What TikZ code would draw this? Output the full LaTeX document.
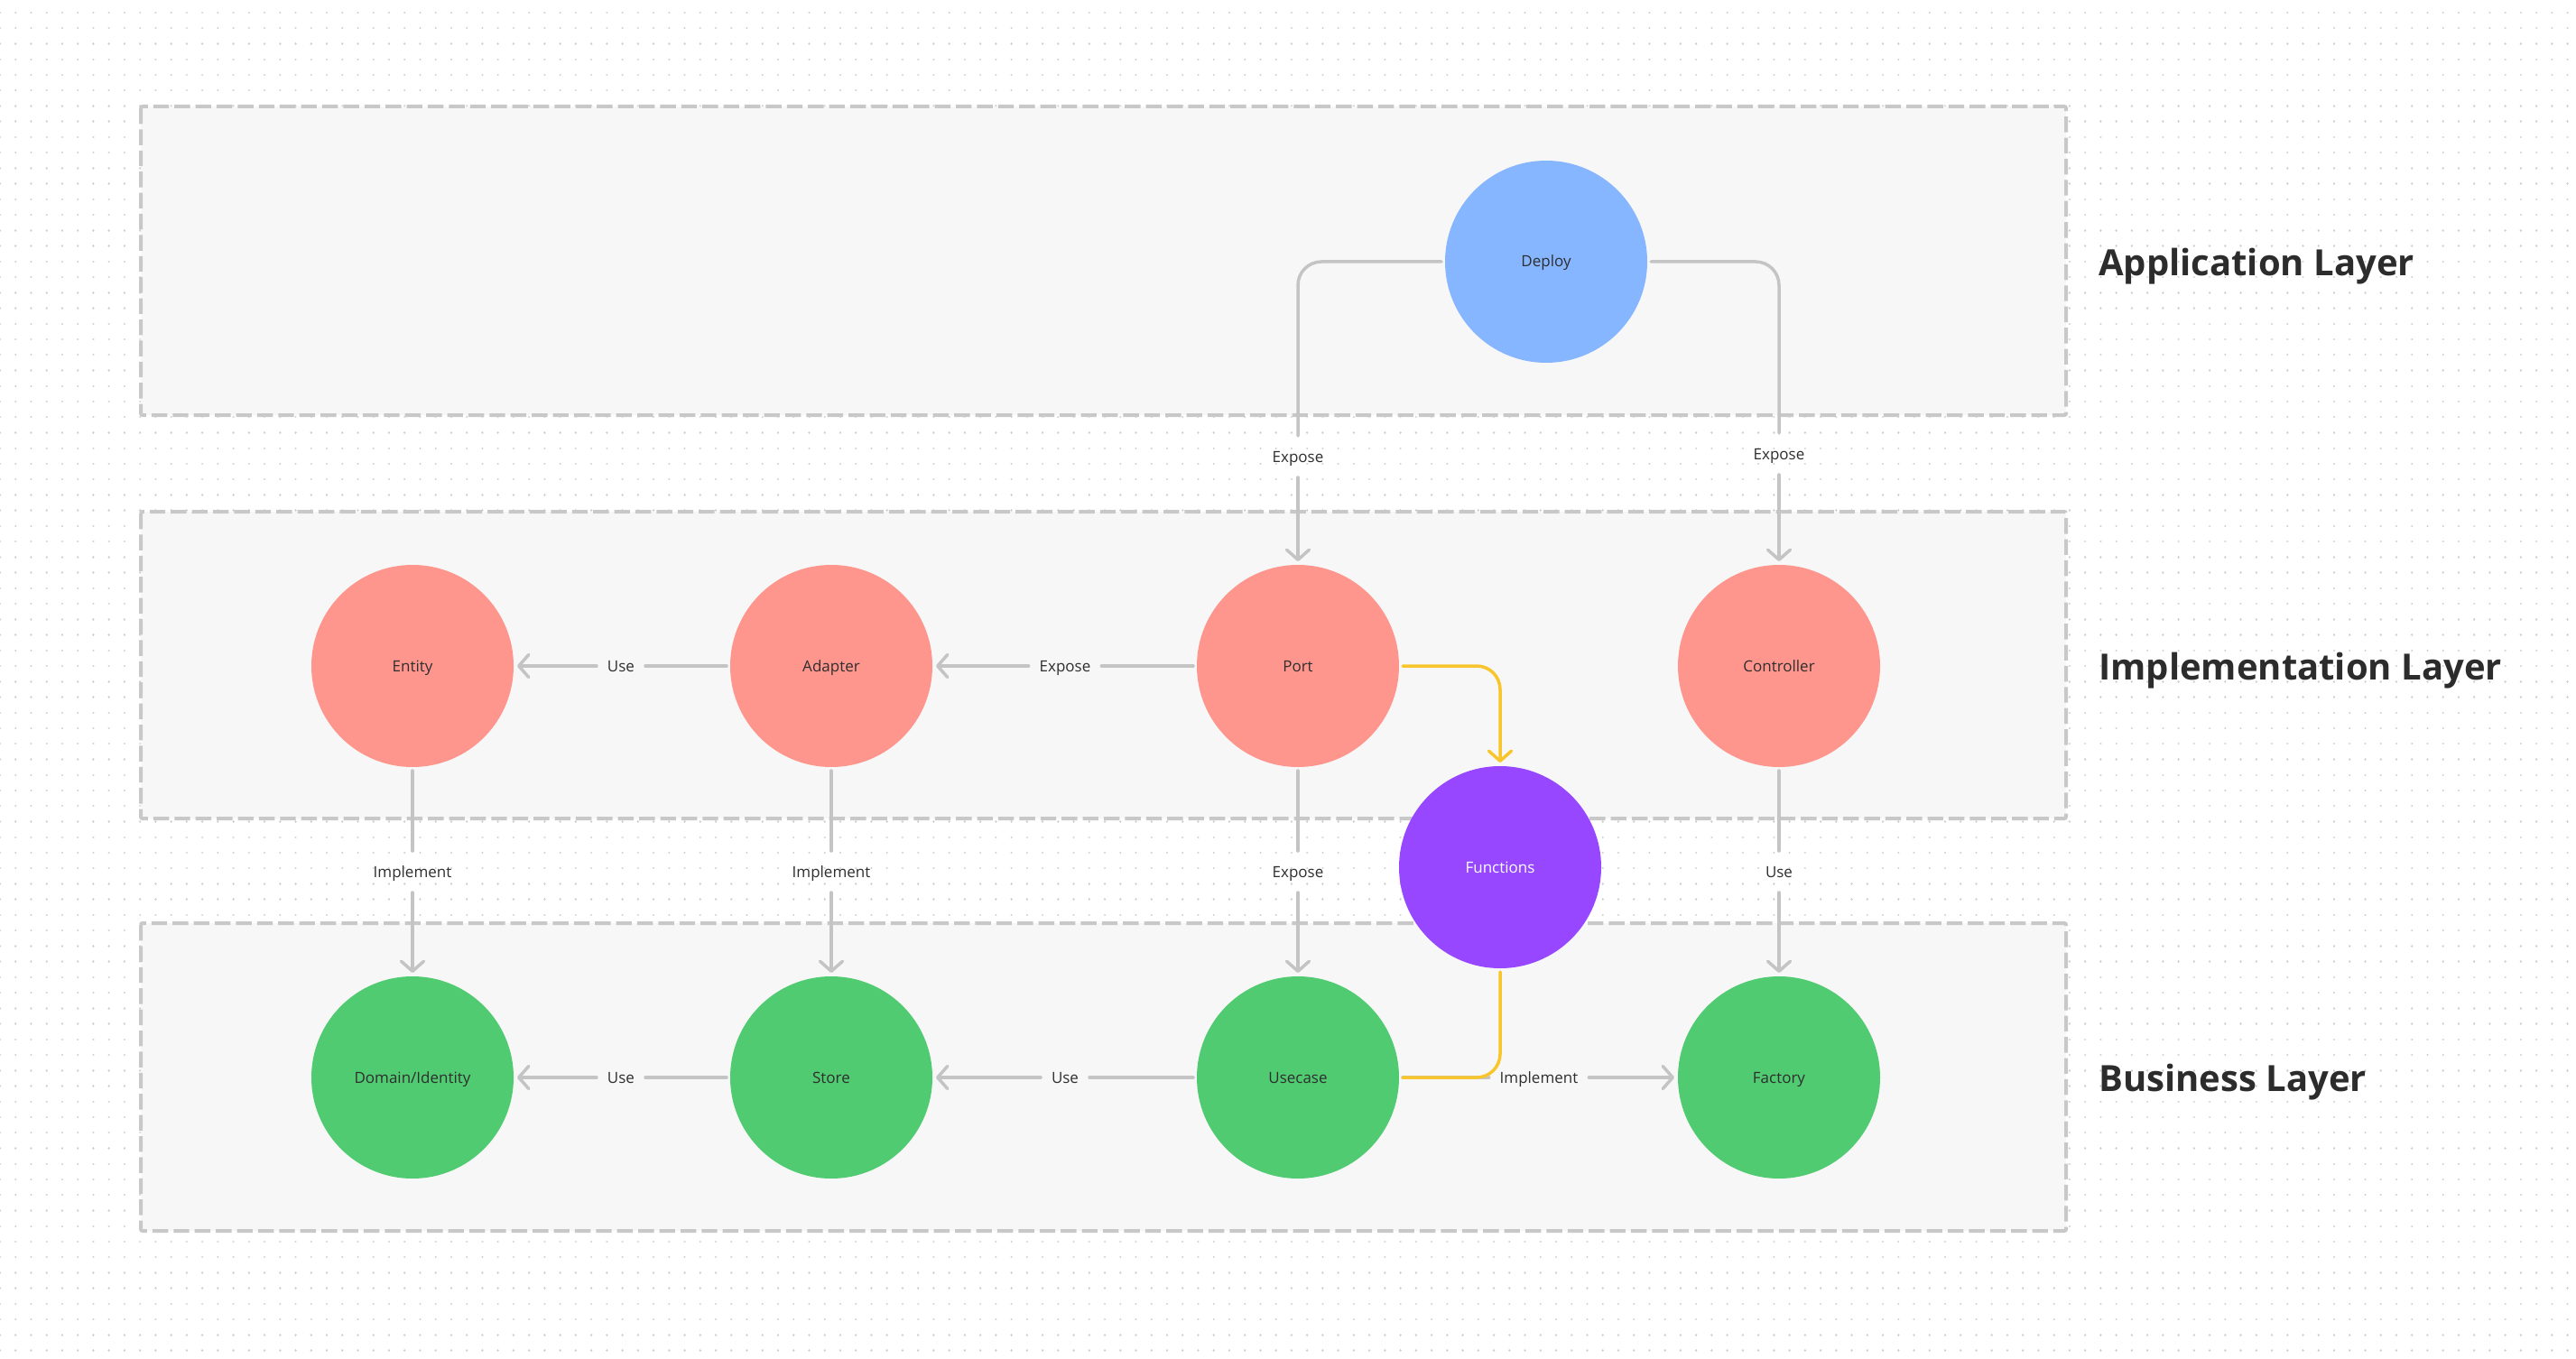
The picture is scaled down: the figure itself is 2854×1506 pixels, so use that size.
\documentclass[tikz,border=0pt]{standalone}
\usepackage{fontspec}
\setmainfont{Open Sans}
\usetikzlibrary{arrows.meta}

\definecolor{griddot}{HTML}{CFCFCF}
\definecolor{layerfill}{HTML}{F7F7F7}
\definecolor{layeredge}{HTML}{C8C8C8}
\definecolor{wiregray}{HTML}{C4C4C4}
\definecolor{flowyellow}{HTML}{F8C62C}
\definecolor{ink}{HTML}{2E2E2E}
\definecolor{titleink}{HTML}{2C2C2C}
\definecolor{appblue}{HTML}{86B6FF}
\definecolor{implred}{HTML}{FF968E}
\definecolor{bizgreen}{HTML}{50CB71}
\definecolor{fnpurple}{HTML}{9747FF}

\begin{document}
\begin{tikzpicture}[x=1pt,y=-1pt,
  dotrow/.style={draw=griddot, line width=2.4pt, line cap=round, dash pattern=on 0.01pt off 17.23pt},
  layer/.style={draw=layeredge, fill=layerfill, line width=4pt, dash pattern=on 17.4pt off 6pt, rounded corners=2pt},
  unit/.style={circle, minimum size=224pt, inner sep=0pt, outer sep=4pt, text=ink,
    text height=12pt, text depth=0pt, font=\fontsize{17}{20}\selectfont},
  tag/.style={inner sep=0pt, outer xsep=12pt, outer ysep=17pt, text height=12pt, text depth=0pt,
    text=ink, font=\fontsize{17}{20}\selectfont},
  title/.style={anchor=west, inner sep=0pt, text height=28.5pt, text depth=0pt, text=titleink,
    font=\fontsize{40}{48}\selectfont\bfseries},
  wire/.style={draw=wiregray, line width=3.5pt, line cap=round},
  arrowed/.style={-{Straight Barb[length=11pt,width=25pt,round]}},
  flow/.style={draw=flowyellow, line width=3.5pt, line cap=round, rounded corners=26pt}
]
\useasboundingbox (0,0) rectangle (2854,1506);
\fill[white] (0,0) rectangle (2854,1506);

% dotted canvas
\foreach \k in {0,...,86}
  \draw[dotrow] (0,{14+17.24*\k}) -- (2860,{14+17.24*\k});

% layer frames
\draw[layer] (156,118) rectangle (2289,460);
\draw[layer] (156,567) rectangle (2289,907);
\draw[layer] (156,1023) rectangle (2289,1364);

% layer titles
\node[title] (tapp)  at (2325,291)  {Application Layer};
\node[title] (timpl) at (2325,739)  {Implementation Layer};
\node[title] (tbiz)  at (2325,1195) {Business Layer};

% components
\node[unit, fill=appblue]  (deploy)     at (1713,290)  {Deploy};
\node[unit, fill=implred]  (entity)     at (457,738)   {Entity};
\node[unit, fill=implred]  (adapter)    at (921,738)   {Adapter};
\node[unit, fill=implred]  (port)       at (1438,738)  {Port};
\node[unit, fill=implred]  (controller) at (1971,738)  {Controller};
\node[unit, fill=fnpurple, text=white] (functions) at (1662,961) {Functions};
\node[unit, fill=bizgreen] (domain)     at (457,1194)  {Domain/Identity};
\node[unit, fill=bizgreen] (store)      at (921,1194)  {Store};
\node[unit, fill=bizgreen] (usecase)    at (1438,1194) {Usecase};
\node[unit, fill=bizgreen] (factory)    at (1971,1194) {Factory};

% connector labels
\node[tag] (lportexp)  at (1438,506)  {Expose};
\node[tag] (lctrlexp)  at (1971,503)  {Expose};
\node[tag] (ladapexp)  at (1180,738)  {Expose};
\node[tag] (lentuse)   at (688,738)   {Use};
\node[tag] (lentimp)   at (457,966)   {Implement};
\node[tag] (ladapimp)  at (921,966)   {Implement};
\node[tag] (lusecexp)  at (1438,966)  {Expose};
\node[tag] (lfactuse)  at (1971,966)  {Use};
\node[tag] (ldomuse)   at (688,1194)  {Use};
\node[tag] (lstoruse)  at (1180,1194) {Use};
\node[tag] (lfactimp)  at (1705,1194) {Implement};

% deploy fan-out
\draw[wire, rounded corners=26pt] (deploy.west) -| (lportexp);
\draw[wire, arrowed] (lportexp) -- (port);
\draw[wire, rounded corners=26pt] (deploy.east) -| (lctrlexp);
\draw[wire, arrowed] (lctrlexp) -- (controller);

% implementation row
\draw[wire] (port) -- (ladapexp);
\draw[wire, arrowed] (ladapexp) -- (adapter);
\draw[wire] (adapter) -- (lentuse);
\draw[wire, arrowed] (lentuse) -- (entity);

% implementation to business
\draw[wire] (entity) -- (lentimp);
\draw[wire, arrowed] (lentimp) -- (domain);
\draw[wire] (adapter) -- (ladapimp);
\draw[wire, arrowed] (ladapimp) -- (store);
\draw[wire] (port) -- (lusecexp);
\draw[wire, arrowed] (lusecexp) -- (usecase);
\draw[wire] (controller) -- (lfactuse);
\draw[wire, arrowed] (lfactuse) -- (factory);

% business row
\draw[wire] (store) -- (ldomuse);
\draw[wire, arrowed] (ldomuse) -- (domain);
\draw[wire] (usecase) -- (lstoruse);
\draw[wire, arrowed] (lstoruse) -- (store);
\draw[wire] (usecase) -- (lfactimp);
\draw[wire, arrowed] (lfactimp) -- (factory);

% functions path
\draw[flow, arrowed] (port.east) -| (functions);
\draw[flow] (functions.south) |- (usecase.east);
\end{tikzpicture}
\end{document}
